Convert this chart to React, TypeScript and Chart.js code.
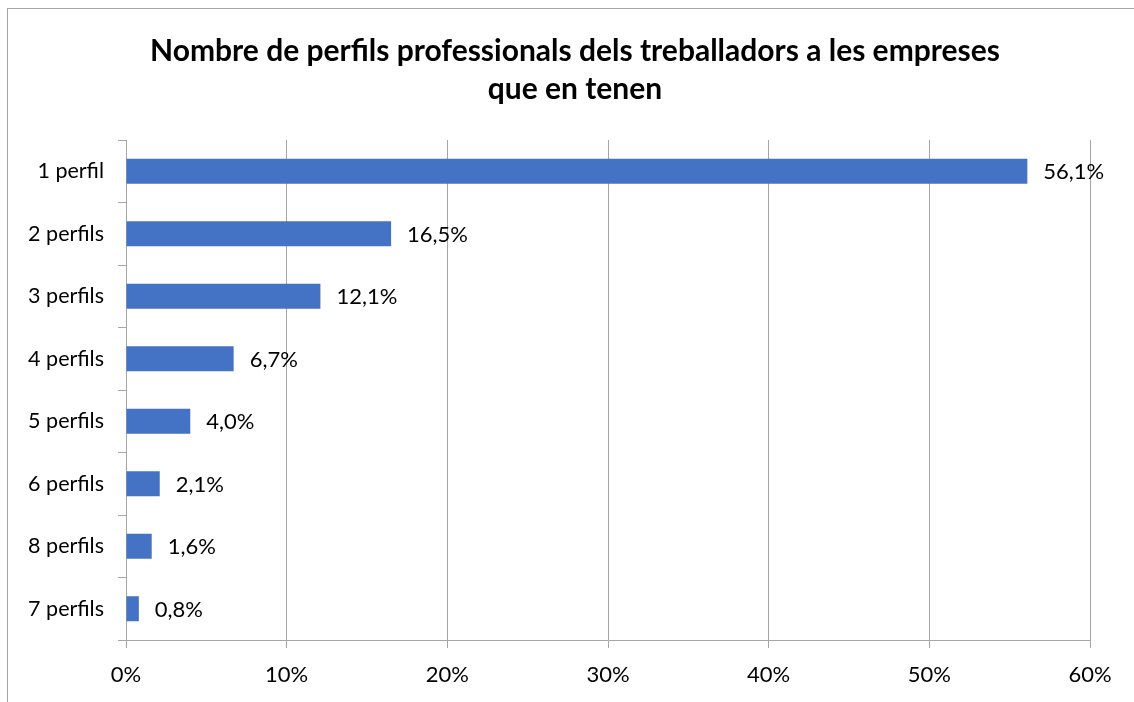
import React, { useEffect, useRef } from "react";
import { Chart, registerables } from "chart.js";

Chart.register(...registerables);

const categories = ["1 perfil", "2 perfils", "3 perfils", "4 perfils", "5 perfils", "6 perfils", "8 perfils", "7 perfils"];
const values = [56.1, 16.5, 12.1, 6.7, 4.0, 2.1, 1.6, 0.8];
const titleLines = ["Nombre de perfils professionals dels treballadors a les empreses", "que en tenen"];

const FONT = "Lato, 'Open Sans', sans-serif";
const GRID = "#a6a6a6";

const labelPlugin = {
  id: "valueLabels",
  afterDatasetsDraw(chart: any) {
    const ctx = chart.ctx;
    const meta = chart.getDatasetMeta(0);
    ctx.save();
    ctx.font = `22px ${FONT}`;
    ctx.fillStyle = "#000";
    ctx.textAlign = "left";
    ctx.textBaseline = "middle";
    meta.data.forEach((bar: any, i: number) => {
      const txt = values[i].toFixed(1).replace(".", ",") + "%";
      ctx.fillText(txt, bar.x + 16, bar.y + 1);
    });
    ctx.restore();
  },
};

const titlePlugin = {
  id: "manualTitle",
  afterDraw(chart: any) {
    const ctx = chart.ctx;
    ctx.save();
    ctx.font = `bold 30px ${FONT}`;
    ctx.fillStyle = "#000";
    ctx.textAlign = "center";
    ctx.textBaseline = "middle";
    ctx.fillText(titleLines[0], 567, 42);
    ctx.fillText(titleLines[1], 567, 80);
    ctx.restore();
  },
};

export default function App() {
  const ref = useRef<HTMLCanvasElement>(null);
  useEffect(() => {
    const chart = new Chart(ref.current!, {
      type: "bar",
      data: {
        labels: categories,
        datasets: [
          {
            data: values,
            backgroundColor: "#4472C4",
            barPercentage: 0.4,
            categoryPercentage: 1,
          },
        ],
      },
      options: {
        indexAxis: "y",
        responsive: false,
        animation: false,
        layout: { padding: { left: 0, right: 44, top: 131, bottom: 0 } },
        plugins: {
          legend: { display: false },
          tooltip: { enabled: false },
          title: { display: false },
        },
        scales: {
          x: {
            min: 0,
            max: 60,
            afterFit(scale: any) {
              scale.height = 62;
            },
            ticks: {
              stepSize: 10,
              color: "#000",
              font: { family: FONT, size: 22 },
              padding: 14,
              maxRotation: 0,
              callback: (v: any) => v + "%",
            },
            grid: { color: GRID, tickLength: 8, lineWidth: 1 },
            border: { color: GRID },
          },
          y: {
            afterFit(scale: any) {
              scale.width = 118;
            },
            ticks: {
              color: "#000",
              font: { family: FONT, size: 21.5 },
              padding: 14,
            },
            grid: { drawOnChartArea: false, color: GRID, tickLength: 8, offset: true },
            border: { color: GRID },
          },
        },
      },
      plugins: [labelPlugin, titlePlugin],
    });
    return () => chart.destroy();
  }, []);
  return (
    <div
      style={{
        position: "fixed",
        left: 7,
        top: 8,
        width: 1127,
        height: 694,
        borderLeft: "1px solid #a6a6a6",
        borderTop: "1px solid #a6a6a6",
        boxSizing: "border-box",
        background: "#fff",
      }}
    >
      <canvas ref={ref} width={1126} height={693} style={{ display: "block" }} />
    </div>
  );
}
